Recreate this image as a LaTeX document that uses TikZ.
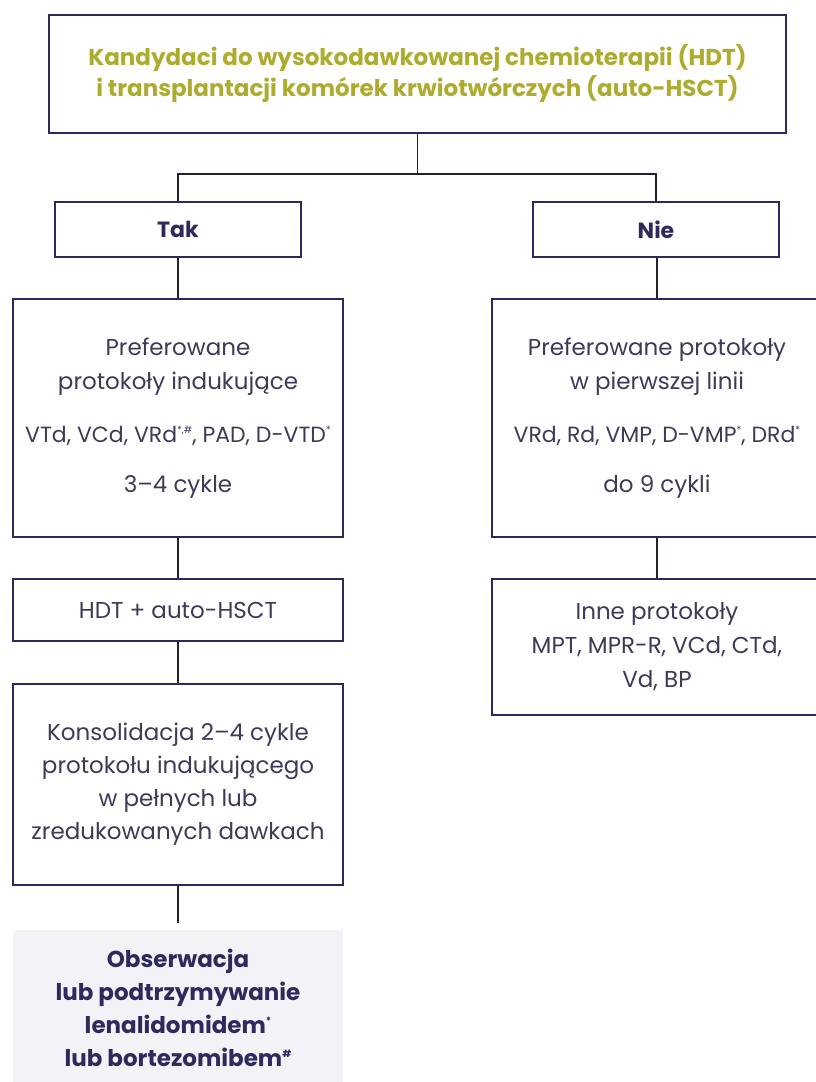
\documentclass[tikz,border=0pt]{standalone}
\usepackage{fontspec}
\setmainfont{Poppins}
\definecolor{framec}{HTML}{2C2A5A}
\definecolor{linkc}{HTML}{22212F}
\definecolor{bodyc}{HTML}{3C3B58}
\definecolor{boldc}{HTML}{2E2A5E}
\definecolor{titlec}{HTML}{ADAC2E}
\definecolor{greyfill}{HTML}{F3F2F7}
% small raised footnote marks
\newcommand\fnmark[1]{\raisebox{0.75ex}{\fontsize{10}{10}\selectfont #1}}
\begin{document}
\begin{tikzpicture}[x=1pt,y=-1pt,
  box/.style={draw=framec, line width=1.6pt, rectangle, align=center,
    text=bodyc, inner sep=0pt, font=\fontsize{23}{34}\selectfont},
  link/.style={draw=linkc, line width=1.8pt}]
\clip (0,0) rectangle (816,1082);
\fill[white] (0,0) rectangle (816,1082);

% question box
\node[box, minimum width=737, minimum height=118, text=titlec,
  font=\fontsize{23}{31}\selectfont\bfseries] (top) at (417.5,74)
  {Kandydaci do wysokodawkowanej chemioterapii (HDT)\\
   i transplantacji komórek krwiotwórczych (auto-HSCT)};

% answers
\node[box, minimum width=246, minimum height=55, text=boldc,
  font=\fontsize{22}{34}\selectfont\bfseries] (tak) at (178,229.5) {Tak};
\node[box, minimum width=246, minimum height=55, text=boldc,
  font=\fontsize{22}{34}\selectfont\bfseries] (nie) at (656,229.5) {Nie};

% left branch
\node[box, minimum width=330, minimum height=238] (ind) at (178,418)
  {Preferowane\\protokoły indukujące\\[19pt]
   {\fontsize{22}{34}\selectfont VTd, VCd, VRd\fnmark{*,\#}, PAD, D-VTD\fnmark{*}}\\[16pt]
   3–4 cykle};
\node[box, minimum width=330, minimum height=62] (hdt) at (178,610)
  {HDT + auto-HSCT};
\node[box, minimum width=330, minimum height=201,
  font=\fontsize{23}{33}\selectfont] (kons) at (178,784.5)
  {Konsolidacja 2–4 cykle\\protokołu indukującego\\w pełnych lub\\zredukowanych dawkach};
\node[rectangle, fill=greyfill, minimum width=330, minimum height=156,
  align=center, inner sep=0pt, text=boldc,
  font=\fontsize{23}{33}\selectfont\bfseries] (obs) at (178,1008)
  {Obserwacja\\lub podtrzymywanie\\lenalidomidem\fnmark{*}\\
   lub bortezomibem\fnmark{\#}};

% right branch
\node[box, minimum width=330, minimum height=238] (first) at (657,418)
  {Preferowane protokoły\\w pierwszej linii\\[19pt]
   {\fontsize{22}{34}\selectfont VRd, Rd, VMP, D-VMP\fnmark{*}, DRd\fnmark{*}}\\[16pt]
   do 9 cykli};
\node[box, minimum width=330, minimum height=136] (other) at (657,647)
  {Inne protokoły\\MPT, MPR-R, VCd, CTd,\\Vd, BP};

% connectors
\draw[link] (top.south) -- ++(0,40) coordinate (split);
\draw[link] (split) -| (tak.north);
\draw[link] (split) -| (nie.north);
\draw[link] (tak.south) -- (ind.north);
\draw[link] (ind.south) -- (hdt.north);
\draw[link] (hdt.south) -- (kons.north);
\draw[link, shorten >=7pt] (kons.south) -- (obs.north);
\draw[link] (nie.south -| first.north) -- (first.north);
\draw[link] (first.south) -- (other.north);
\end{tikzpicture}
\end{document}
